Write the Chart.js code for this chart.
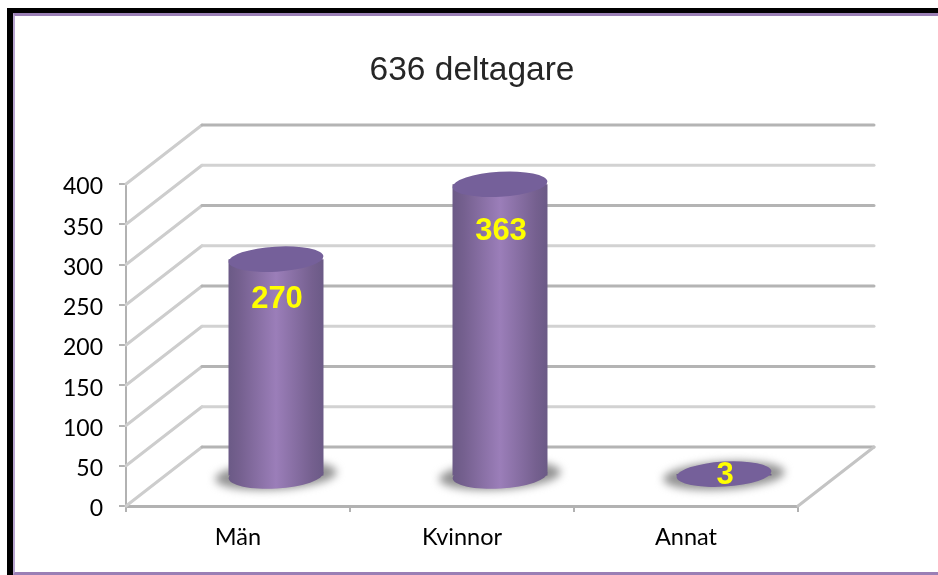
<!DOCTYPE html>
<html>
<head>
<meta charset="utf-8">
<style>
  html, body { margin: 0; padding: 0; background: #fff; overflow: hidden; }
  #wrap { position: relative; width: 938px; height: 575px; }
  #frame { position: absolute; left: 7px; top: 8px; width: 931px; height: 567px; box-sizing: border-box;
           border-left: 6px solid #000; border-top: 5px solid #000; }
  #inner { position: absolute; left: 13px; top: 13px; width: 925px; height: 562px; box-sizing: border-box;
           border-left: 2px solid #b9a6d0; border-top: 3px solid #9a7fb5; border-bottom: 3px solid #9a7fb5; }
  canvas { position: absolute; left: 0; top: 0; }
</style>
<script src="https://cdn.jsdelivr.net/npm/chart.js@4"></script>
</head>
<body>
<div id="wrap">
  <div id="frame"></div>
  <div id="inner"></div>
  <canvas id="myChart" width="938" height="575"></canvas>
</div>
<script>
const chartTitle = '636 deltagare';
const categories = ['Män', 'Kvinnor', 'Annat'];
const deltagare = [270, 363, 3];
const yTicks = [0, 50, 100, 150, 200, 250, 300, 350, 400];

// depth of the fake 3D box
const DEPTH_X = 76;
const DEPTH_Y = -59;

function cylinderFill(ctx, x, w) {
    const g = ctx.createLinearGradient(x - w / 2, 0, x + w / 2, 0);
    g.addColorStop(0, '#6b5a86');
    g.addColorStop(0.12, '#75608f');
    g.addColorStop(0.5, '#9b7eb9');
    g.addColorStop(0.88, '#75608f');
    g.addColorStop(1, '#6b5a86');
    return g;
}

function ellipse(ctx, x, y, rx, ry, rot, fill) {
    ctx.beginPath();
    ctx.ellipse(x, y, rx, ry, rot, 0, Math.PI * 2);
    ctx.fillStyle = fill;
    ctx.fill();
}

const box3d = {
    id: 'box3d',
    beforeDatasetsDraw(chart) {
        const { ctx, chartArea, scales } = chart;
        ctx.save();
        ctx.lineCap = 'round';
        yTicks.forEach(function (v, i) {
            const y = scales.y.getPixelForValue(v);
            // side wall
            ctx.strokeStyle = '#cdcdcd';
            ctx.lineWidth = 3;
            ctx.beginPath();
            ctx.moveTo(chartArea.left, y);
            ctx.lineTo(chartArea.left + DEPTH_X, y + DEPTH_Y);
            ctx.stroke();
            // back wall
            ctx.strokeStyle = i % 2 === 0 ? '#b4b4b4' : '#d2d2d2';
            ctx.beginPath();
            ctx.moveTo(chartArea.left + DEPTH_X, y + DEPTH_Y);
            ctx.lineTo(chartArea.right + DEPTH_X, y + DEPTH_Y);
            ctx.stroke();
        });
        // floor edge on the right
        const y0 = scales.y.getPixelForValue(0);
        ctx.strokeStyle = '#c4c4c4';
        ctx.beginPath();
        ctx.moveTo(chartArea.right, y0);
        ctx.lineTo(chartArea.right + DEPTH_X, y0 + DEPTH_Y);
        ctx.stroke();
        ctx.restore();

        ctx.save();
        ctx.fillStyle = '#262626';
        ctx.font = '33.5px "Liberation Sans"';
        ctx.textAlign = 'center';
        ctx.textBaseline = 'middle';
        ctx.fillText(chartTitle, 472, 71);
        ctx.restore();
    },
    beforeDatasetDraw(chart) {
        const ctx = chart.ctx;
        // floor shadows and cylinder bottoms, then bars drawn half way into the box
        ctx.save();
        ctx.translate(DEPTH_X * 0.5, DEPTH_Y * 0.5);
        chart.getDatasetMeta(0).data.forEach(function (bar, i) {
            ctx.save();
            ctx.filter = 'blur(4px)';
            ellipse(ctx, bar.x, bar.base, bar.width * 0.64, 14, -0.06, '#929292');
            ctx.restore();
            if (deltagare[i] > 10) {
                ellipse(ctx, bar.x, bar.base, bar.width / 2, 13, -0.06, cylinderFill(ctx, bar.x, bar.width));
            }
        });
    },
    afterDatasetDraw(chart) {
        const ctx = chart.ctx;
        chart.getDatasetMeta(0).data.forEach(function (bar, i) {
            ellipse(ctx, bar.x, bar.y, bar.width / 2, 12.5, -0.06, '#75609a');
            ctx.fillStyle = '#ffff00';
            ctx.font = 'bold 31px "Liberation Sans"';
            ctx.textAlign = 'center';
            ctx.textBaseline = 'middle';
            const drop = Math.min(46, (bar.base - bar.y) * 0.18) + 1;
            ctx.fillText(String(deltagare[i]), bar.x + 1, bar.y + drop);
        });
        ctx.restore();
    }
};

const myChart = new Chart(document.getElementById('myChart').getContext('2d'), {
    type: 'bar',
    plugins: [box3d],
    data: {
        labels: categories,
        datasets: [{
            data: deltagare,
            barPercentage: 0.424,
            categoryPercentage: 1,
            borderWidth: 0,
            backgroundColor: function (c) {
                const x = c.chart.scales.x ? c.chart.scales.x.getPixelForValue(c.dataIndex) : NaN;
                if (!isFinite(x)) return '#8a6fa8';
                return cylinderFill(c.chart.ctx, x, 95);
            }
        }]
    },
    options: {
        responsive: false,
        animation: false,
        layout: { padding: { left: 40, top: 184, right: 140, bottom: 0 } },
        plugins: {
            legend: { display: false },
            tooltip: { enabled: false }
        },
        scales: {
            x: {
                afterFit: function (s) { s.height = 69; },
                grid: { drawOnChartArea: false, color: '#b2b2b2', lineWidth: 2, tickLength: 6 },
                border: { color: '#b2b2b2', width: 3 },
                ticks: { color: '#000', padding: 11, maxRotation: 0, font: { family: 'Lato', size: 23.5 } }
            },
            y: {
                min: 0,
                max: 400,
                afterFit: function (s) { s.width = 86; },
                afterBuildTicks: function (s) { s.ticks = yTicks.map(function (v) { return { value: v }; }); },
                grid: { drawOnChartArea: false, color: '#b2b2b2', lineWidth: 2, tickLength: 7 },
                border: { color: '#b2b2b2', width: 2 },
                ticks: {
                    color: '#000',
                    padding: 16,
                    font: { family: 'Lato', size: 23, lineHeight: '6px' },
                    // empty first line pushes the number 3px below the tick
                    callback: function (v) { return ['', String(v)]; }
                }
            }
        }
    }
});
</script>
</body>
</html>
